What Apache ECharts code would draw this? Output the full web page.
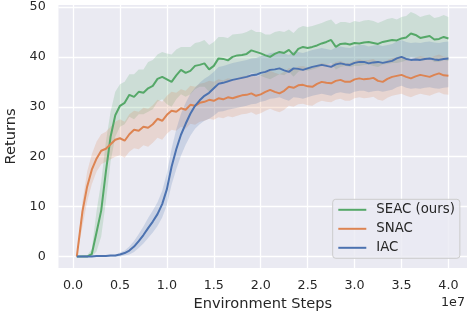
<!DOCTYPE html>
<html>
<head>
<meta charset="utf-8">
<script src="https://cdn.jsdelivr.net/npm/echarts@6/dist/echarts.min.js"></script>
<style>
html,body{margin:0;padding:0;background:#ffffff;}
#chart{width:468px;height:322px;}
</style>
</head>
<body>
<div id="chart"></div>
<script>
// Environment steps (in units of 1e7)
const xs = [0.04,0.10,0.15,0.20,0.25,0.30,0.35,0.40,0.45,0.50,0.55,0.60,0.65,0.70,0.75,0.80,0.85,0.90,0.95,1.00,
1.05,1.10,1.15,1.20,1.25,1.30,1.35,1.40,1.45,1.50,1.55,1.60,1.65,1.70,1.75,1.80,1.85,1.90,1.95,2.00,
2.05,2.10,2.15,2.20,2.25,2.30,2.35,2.40,2.45,2.50,2.55,2.60,2.65,2.70,2.75,2.80,2.85,2.90,2.95,3.00,
3.05,3.10,3.15,3.20,3.25,3.30,3.35,3.40,3.45,3.50,3.55,3.60,3.65,3.70,3.75,3.80,3.85,3.90,3.95,4.00];

const seriesNames = ['SEAC (ours)', 'SNAC', 'IAC'];
const xTicks = [0.0,0.5,1.0,1.5,2.0,2.5,3.0,3.5,4.0];
const yTicks = [0,10,20,30,40,50];

const seacMean = [0,0,0,0.5,4.8,9.2,17,24,28.3,30.2,30.8,32.4,32,33,32.8,33.7,34.2,35.6,36,35.5,
35,36.3,37.4,36.8,37.2,38.2,38.4,38.7,37.5,38.2,39.7,39.6,39.3,40,40.3,40.4,40.6,41.3,41,40.7,
40.3,40,40.6,41,40.8,41.4,40.4,41.6,42,41.8,42,42.3,42.7,43,43.4,42,42.6,42.7,42.5,42.8,
42.7,42.9,43,42.8,42.6,43,43.2,43.4,43.3,43.7,43.9,44.7,44.4,43.8,44,44.2,43.5,43.6,44,43.7];
const seacLo = [0,0,0,0,1,4,11,19,24,26,26.5,28,27.5,28.5,28.5,29,29.5,31,31.5,30.5,
30,31.5,32.5,32,32.5,33.5,34,34,33,33.5,35,35,34.8,35.5,35.8,36,36,36.8,36.5,36.2,
35.8,35.5,36,36.5,36.3,37,36,37,37.5,37.2,37.5,37.8,38.2,38.4,38.8,37.5,38,38.2,38,38.2,
38.2,38.4,38.5,38.2,38,38.5,38.6,38.8,38.8,39,39.3,40,39.8,39.2,39.4,39.6,39,39,39.4,39.2];
const seacHi = [0,0.1,0.2,1.5,9,15,23,29,33,34.5,35,36.5,36.5,37.5,37.5,39,39.4,40.5,41,40.7,
40.5,41.5,42,42,42,42.8,43,43.4,42.4,43,44,44,43.8,44.5,44.6,44.7,45,45.5,45,45,
44.5,44.5,45,45.2,45,45.5,44.8,45.8,46.2,46,46.2,46.5,46.8,47.2,47.5,46.5,47,47,46.8,47.2,
47,47.3,47.4,47.2,46.8,47.2,47.6,47.8,47.5,48,48.2,49,48.6,48,48.3,48.5,47.8,48,48.4,48];

const snacMean = [0,9,14,17.4,19.6,21.2,21.6,22.5,23.4,23.7,23.2,24.5,25.4,25.2,26,25.8,26.5,27.6,27.2,28.4,
29.2,29,29.7,29.4,30.4,30.2,30.8,31,31.4,31.2,31.7,31.5,31.9,31.7,32,32.3,32.4,32.7,32.2,32.5,
33,33.4,33,32.7,33.2,34,33.8,34.3,34.4,34.1,34,34.6,35,34.8,34.7,35.2,35.4,35,35,35.5,
35.7,35.5,35.6,35.8,35.2,35,35.6,36,36.2,36.4,36,35.7,36.1,36.4,36.2,36,36.4,36.7,36.3,36.2];
const snacLo = [0,6,11,14.5,17,18.5,19,19.5,20,20.3,19.8,21,21.7,21.5,22.3,22,22.8,23.8,23.4,24.6,
25.4,25.2,26,25.6,26.6,26.4,27,27.2,27.6,27.4,27.9,27.7,28.1,27.9,28.2,28.5,28.6,28.9,28.4,28.7,
29.2,29.6,29.2,28.9,29.4,30.2,30,30.5,30.6,30.3,30.2,30.8,31.2,31,30.9,31.4,31.6,31.2,31.2,31.7,
31.9,31.7,31.8,32,31.4,31.2,31.8,32.2,32.4,32.6,32.2,31.9,32.3,32.6,32.4,32.2,32.6,32.9,32.5,32.4];
const snacHi = [0,11,17,20.5,23,24.5,25,26,27,27.5,27,28.5,29.2,29,29.8,29.6,30.3,31.4,31,32.2,
33,32.8,33.5,33.2,34.2,34,34.6,34.8,35.2,35,35.5,35.3,35.7,35.5,35.8,36.1,36.2,36.5,36,36.3,
36.8,37.2,36.8,36.5,37,37.8,37.6,38.1,38.2,37.9,37.8,38.4,38.8,38.6,38.5,39,39.2,38.8,38.8,39.3,
39.5,39.3,39.4,39.6,39,38.8,39.4,39.8,40,40.2,39.8,39.5,39.9,40.2,40,39.8,40.2,40.5,40.1,40];

const iacMean = [0,0,0,0,0.1,0.1,0.1,0.2,0.2,0.4,0.7,1.2,2,3.1,4.3,5.7,7,8.5,10.5,13.5,
18,21.5,24.4,26.6,28.6,30.2,31.3,32.2,32.8,33.7,34.6,34.8,35.1,35.4,35.6,35.8,36,36.3,36.4,36.8,
37,37.4,37.5,37.7,37.3,37,37.7,37.6,37.4,37.7,38,38.2,38.4,38.2,38,38.5,38.7,38.5,38.4,38.8,
39,39,38.7,38.9,39,38.8,39,39.2,39.7,40,39.6,39.4,39.5,39.4,39.6,39.7,39.5,39.4,39.6,39.7];
const iacLo = [0,-0.1,-0.1,-0.1,-0.1,-0.1,-0.1,-0.1,-0.1,0,0.2,0.4,0.9,1.7,2.6,3.7,4.8,6.1,7.8,10.3,
14.4,17.5,20.2,22.4,24.2,25.6,26.5,27.2,27.6,28.2,29,29.1,29.4,29.6,29.8,30,30.2,30.5,30.6,31,
31.2,31.6,31.7,31.9,31.5,31.2,31.9,31.8,31.6,31.9,32.2,32.4,32.6,32.4,32.2,32.7,32.9,32.7,32.6,33,
33.2,33.2,32.9,33.1,33.2,33,33.2,33.4,33.9,34.2,33.8,33.6,33.7,33.6,33.8,33.9,33.7,33.6,33.8,33.9];
const iacHi = [0,0.3,0.3,0.3,0.3,0.3,0.3,0.3,0.3,0.8,1.2,2,3.1,4.5,6,7.7,9.2,10.9,13.2,16.7,
21.6,25.5,28.6,30.8,32.6,33.8,34.8,35.6,36.2,37,38,38.2,38.5,38.8,39,39.2,39.4,39.7,39.8,40.2,
40.4,40.8,40.9,41.1,40.7,40.4,41.1,41,40.8,41.1,41.4,41.6,41.8,41.6,41.4,41.9,42.1,41.9,41.8,42.2,
42.4,42.4,42.1,42.3,42.4,42.2,42.4,42.6,43.1,43.4,43,42.8,42.9,42.8,43,43.1,42.9,42.8,43,43.1];

const colors = ['#55A868', '#DD8452', '#4C72B0'];
const FONT = 'DejaVu Sans';
const TXT = '#262626';

function bandSeries(id, lo, hi, color) {
  return {
    type: 'custom', name: id, silent: true, z: 1, clip: true,
    data: xs.map((x, i) => [x, lo[i], hi[i]]),
    encode: { x: 0, y: [1, 2] },
    renderItem: function (params, api) {
      if (params.dataIndex !== 0) return null;
      const up = [], dn = [];
      for (let i = 0; i < xs.length; i++) {
        up.push(api.coord([xs[i], hi[i]]));
        dn.push(api.coord([xs[i], lo[i]]));
      }
      return { type: 'polygon', shape: { points: up.concat(dn.reverse()) },
               style: { fill: color, opacity: 0.2 } };
    }
  };
}
function lineSeries(name, mean, color) {
  return {
    type: 'line', name: name, z: 3, symbol: 'none', showSymbol: false,
    data: xs.map((x, i) => [x, mean[i]]),
    lineStyle: { width: 2, color: color }, itemStyle: { color: color },
    emphasis: { disabled: true }
  };
}

const chart = echarts.init(document.getElementById('chart'), null, { renderer: 'canvas' });
chart.setOption({
  animation: false,
  backgroundColor: '#ffffff',
  textStyle: { fontFamily: FONT, color: TXT },
  grid: { left: 58.5, right: 1, top: 5, bottom: 54, show: true, backgroundColor: '#EAEAF2',
          borderWidth: 0, containLabel: false, outerBoundsMode: 'none' },
  xAxis: {
    type: 'value', min: -0.155, max: 4.198,
    name: 'Environment Steps', nameLocation: 'middle', nameGap: 28,
    nameTextStyle: { fontFamily: FONT, fontSize: 14.6, color: TXT },
    axisLine: { show: false },
    axisTick: { show: false, customValues: xTicks },
    axisLabel: { customValues: xTicks, margin: 11, fontFamily: FONT, fontSize: 12.7, color: TXT,
                 formatter: v => v.toFixed(1) },
    splitLine: { show: true, lineStyle: { color: '#ffffff', width: 1.3 } }
  },
  yAxis: {
    type: 'value', min: -2.3, max: 50.4,
    name: 'Returns', nameLocation: 'middle', nameGap: 25, nameRotate: 90,
    nameTextStyle: { fontFamily: FONT, fontSize: 14.6, color: TXT },
    axisLine: { show: false },
    axisTick: { show: false, customValues: yTicks },
    axisLabel: { customValues: yTicks, margin: 12.8, fontFamily: FONT, fontSize: 12.7, color: TXT },
    splitLine: { show: true, lineStyle: { color: '#ffffff', width: 1.3 } }
  },
  legend: {
    data: seriesNames, orient: 'vertical', left: 332.7, top: 199.3,
    itemWidth: 28, itemHeight: 14, itemGap: 6, padding: [4, 5, 4, 4.6],
    backgroundColor: 'rgba(234,234,242,0.8)', borderColor: '#cccccc', borderWidth: 1, borderRadius: 3,
    itemStyle: { color: 'rgba(0,0,0,0)', borderColor: 'rgba(0,0,0,0)', borderWidth: 0, opacity: 0 },
    lineStyle: { width: 2 },
    textStyle: { fontFamily: FONT, fontSize: 13.3, color: TXT, padding: [0, 0, 0, 5] },
    selectedMode: false
  },
  graphic: [
    { type: 'text', right: 3, top: 296, style: { text: '1e7', font: '12.7px "DejaVu Sans"', fill: TXT } }
  ],
  series: [
    bandSeries('band-seac', seacLo, seacHi, colors[0]),
    bandSeries('band-snac', snacLo, snacHi, colors[1]),
    bandSeries('band-iac', iacLo, iacHi, colors[2]),
    lineSeries(seriesNames[0], seacMean, colors[0]),
    lineSeries(seriesNames[1], snacMean, colors[1]),
    lineSeries(seriesNames[2], iacMean, colors[2])
  ]
});
</script>
</body>
</html>
